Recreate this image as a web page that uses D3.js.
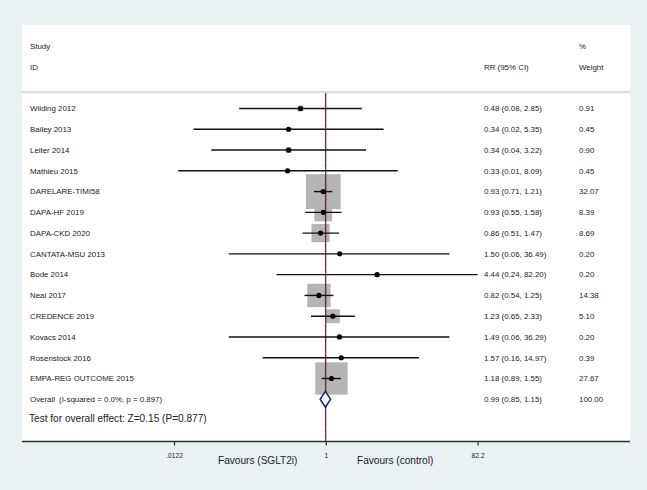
<!DOCTYPE html>
<html>
<head>
<meta charset="utf-8">
<script src="https://cdn.jsdelivr.net/npm/d3@7"></script>
<style>
  html, body { margin: 0; padding: 0; background: #e9f1f3; }
  svg { display: block; font-family: "Liberation Sans", Arial, sans-serif; }
</style>
</head>
<body>
<svg id="chart" width="647" height="490"></svg>
<script>
// ---- data ----
const studies = ["Wilding 2012", "Bailey 2013", "Leiter 2014", "Mathieu 2015", "DARELARE-TIMI58",
  "DAPA-HF 2019", "DAPA-CKD 2020", "CANTATA-MSU 2013", "Bode 2014", "Neal 2017",
  "CREDENCE 2019", "Kovacs 2014", "Rosenstock 2016", "EMPA-REG OUTCOME 2015"];
const rr     = [0.48, 0.34, 0.34, 0.33, 0.93, 0.93, 0.86, 1.50, 4.44, 0.82, 1.23, 1.49, 1.57, 1.18];
const lower  = [0.081, 0.0214, 0.036, 0.0138, 0.71, 0.55, 0.51, 0.06, 0.24, 0.54, 0.65, 0.06, 0.16, 0.89];
const upper  = [2.85, 5.35, 3.22, 8.09, 1.21, 1.58, 1.47, 36.49, 82.20, 1.25, 2.33, 36.29, 14.97, 1.55];
const weight = [0.91, 0.45, 0.90, 0.45, 32.07, 8.39, 8.69, 0.20, 0.20, 14.38, 5.10, 0.20, 0.39, 27.67];
const overall = { rr: 0.99, lower: 0.85, upper: 1.15, weight: 100.00 };
const overallLabel = "Overall";
const overallHet = "(I-squared = 0.0%, p = 0.897)";
const testLabel = "Test for overall effect: Z=0.15 (P=0.877)";
const tickValues = [0.0122, 1, 82.2];
const tickLabels = [".0122", "1", "82.2"];
const favourLeft = "Favours (SGLT2i)";
const favourRight = "Favours (control)";

// ---- layout ----
const svg = d3.select("#chart");
const panel = { x: 22, y: 25, w: 608, h: 416 };
const axisY = 441.5;
const rowY0 = 108.5, rowStep = 20.77;
const fs = 7.9;
const textColor = "#222";

svg.append("rect").attr("x", 0).attr("y", 0).attr("width", 647).attr("height", 490).attr("fill", "#e9f1f3");
svg.append("rect").attr("x", panel.x).attr("y", panel.y).attr("width", panel.w).attr("height", panel.h).attr("fill", "#ffffff");

const x = d3.scaleLog().domain([0.0122, 82.2]).range([174, 477.6]);
const yScale = d3.scaleLinear().domain([0, 1]).range([rowY0, rowY0 + rowStep]);

// header
const hdr = svg.append("g").attr("font-size", fs).attr("fill", textColor);
hdr.append("text").attr("x", 30).attr("y", 46.7).attr("dy", "0.35em").text("Study");
hdr.append("text").attr("x", 30).attr("y", 67).attr("dy", "0.35em").text("ID");
hdr.append("text").attr("x", 484).attr("y", 67).attr("dy", "0.35em").text("RR (95% CI)");
hdr.append("text").attr("x", 579).attr("y", 46.7).attr("dy", "0.35em").text("%");
hdr.append("text").attr("x", 579).attr("y", 67).attr("dy", "0.35em").text("Weight");

// separator
svg.append("rect").attr("x", panel.x).attr("y", 91).attr("width", panel.w).attr("height", 2.2).attr("fill", "#dcdcdc");

// boxes (area proportional to weight)
const k = 6.15;
const rows = studies.map((s, i) => ({ s, rr: rr[i], lo: lower[i], hi: upper[i], w: weight[i], i }));
svg.append("g").selectAll("rect").data(rows).join("rect")
  .attr("x", d => x(d.rr) - k * Math.sqrt(d.w) / 2)
  .attr("y", d => yScale(d.i) - k * Math.sqrt(d.w) / 2)
  .attr("width", d => k * Math.sqrt(d.w))
  .attr("height", d => k * Math.sqrt(d.w))
  .attr("fill", "#b5b5b5");

// null line at 1
svg.append("line").attr("x1", x(1)).attr("x2", x(1)).attr("y1", 93).attr("y2", axisY)
  .attr("stroke", "#111").attr("stroke-width", 1);
// overall effect line (dashed)
svg.append("line").attr("x1", x(overall.rr)).attr("x2", x(overall.rr)).attr("y1", 94).attr("y2", 437)
  .attr("stroke", "#8a2a2a").attr("stroke-width", 1).attr("stroke-dasharray", "3,2");

// CI lines
svg.append("g").selectAll("line").data(rows).join("line")
  .attr("x1", d => x(d.lo)).attr("x2", d => x(d.hi))
  .attr("y1", d => yScale(d.i)).attr("y2", d => yScale(d.i))
  .attr("stroke", "#111").attr("stroke-width", 1.4);

// dots
svg.append("g").selectAll("circle").data(rows).join("circle")
  .attr("cx", d => x(d.rr)).attr("cy", d => yScale(d.i)).attr("r", 2.6).attr("fill", "#000");

// diamond
const oy = yScale(studies.length);
svg.append("path")
  .attr("d", `M${x(overall.lower)},${oy} L${x(overall.rr)},${oy - 8} L${x(overall.upper)},${oy} L${x(overall.rr)},${oy + 8} Z`)
  .attr("fill", "#fff").attr("stroke", "#1c1c8a").attr("stroke-width", 1.5);

// row labels
const lab = svg.append("g").attr("font-size", fs).attr("fill", textColor);
lab.selectAll("text.name").data(rows).join("text").attr("class", "name")
  .attr("x", 30).attr("y", d => yScale(d.i)).attr("dy", "0.35em").text(d => d.s);
lab.selectAll("text.ci").data(rows).join("text").attr("class", "ci")
  .attr("x", 484).attr("y", d => yScale(d.i)).attr("dy", "0.35em")
  .text(d => `${d.rr.toFixed(2)} (${d.lo.toFixed(2)}, ${d.hi.toFixed(2)})`);
lab.selectAll("text.wt").data(rows).join("text").attr("class", "wt")
  .attr("x", 579).attr("y", d => yScale(d.i)).attr("dy", "0.35em").text(d => d.w.toFixed(2));

// overall row text
lab.append("text").attr("x", 30).attr("y", oy).attr("dy", "0.35em").text(overallLabel);
lab.append("text").attr("x", 59).attr("y", oy).attr("dy", "0.35em").text(overallHet);
lab.append("text").attr("x", 484).attr("y", oy).attr("dy", "0.35em")
  .text(`${overall.rr.toFixed(2)} (${overall.lower.toFixed(2)}, ${overall.upper.toFixed(2)})`);
lab.append("text").attr("x", 579).attr("y", oy).attr("dy", "0.35em").text(overall.weight.toFixed(2));

svg.append("text").attr("x", 29).attr("y", 418).attr("dy", "0.35em")
  .attr("font-size", 10.1).attr("fill", textColor).text(testLabel);

// axis
svg.append("line").attr("x1", panel.x).attr("x2", panel.x + panel.w).attr("y1", axisY).attr("y2", axisY)
  .attr("stroke", "#333").attr("stroke-width", 1.6);
const axis = d3.axisBottom(x).tickValues(tickValues)
  .tickFormat((d, i) => tickLabels[i]).tickSize(4).tickSizeOuter(0).tickPadding(8);
const ag = svg.append("g").attr("transform", `translate(0,${axisY})`).call(axis);
ag.select(".domain").remove();
ag.selectAll(".tick line").attr("stroke", "#333").attr("stroke-width", 1.3);
ag.selectAll(".tick text").attr("font-size", 6.7).attr("fill", textColor)
  .attr("font-family", "Liberation Sans, Arial, sans-serif");

svg.append("text").attr("x", 218).attr("y", 460).attr("dy", "0.35em").attr("font-size", 10.1)
  .attr("fill", textColor).text(favourLeft);
svg.append("text").attr("x", 357).attr("y", 460).attr("dy", "0.35em").attr("font-size", 10.1)
  .attr("fill", textColor).text(favourRight);
</script>
</body>
</html>
